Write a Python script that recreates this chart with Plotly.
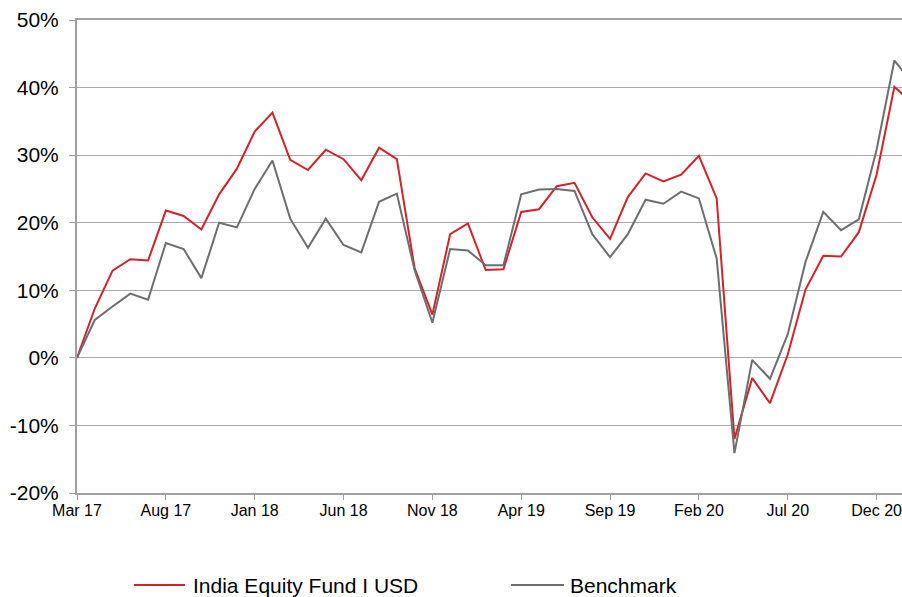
import plotly.graph_objects as go

# Monthly cumulative performance (%), Mar 17 .. Feb 21
months = [
    "Mar 17", "Apr 17", "May 17", "Jun 17", "Jul 17", "Aug 17", "Sep 17", "Oct 17",
    "Nov 17", "Dec 17", "Jan 18", "Feb 18", "Mar 18", "Apr 18", "May 18", "Jun 18",
    "Jul 18", "Aug 18", "Sep 18", "Oct 18", "Nov 18", "Dec 18", "Jan 19", "Feb 19",
    "Mar 19", "Apr 19", "May 19", "Jun 19", "Jul 19", "Aug 19", "Sep 19", "Oct 19",
    "Nov 19", "Dec 19", "Jan 20", "Feb 20", "Mar 20", "Apr 20", "May 20", "Jun 20",
    "Jul 20", "Aug 20", "Sep 20", "Oct 20", "Nov 20", "Dec 20", "Jan 21", "Feb 21",
]

fund = [
    0.0, 7.3, 12.9, 14.6, 14.4, 21.8, 21.0, 19.0,
    24.2, 28.0, 33.5, 36.3, 29.3, 27.8, 30.8, 29.4,
    26.3, 31.1, 29.4, 13.3, 6.4, 18.3, 19.9, 13.0,
    13.1, 21.6, 22.0, 25.4, 25.9, 20.8, 17.6, 23.8,
    27.3, 26.1, 27.1, 29.9, 23.6, -12.0, -3.0, -6.7,
    0.5, 10.1, 15.1, 15.0, 18.6, 27.1, 40.1, 37.8,
]

benchmark = [
    0.0, 5.6, 7.6, 9.5, 8.6, 17.0, 16.1, 11.8,
    20.0, 19.3, 25.0, 29.2, 20.6, 16.3, 20.6, 16.7,
    15.6, 23.1, 24.3, 13.0, 5.2, 16.1, 15.9, 13.7,
    13.7, 24.2, 24.9, 25.0, 24.7, 18.3, 14.9, 18.3,
    23.4, 22.8, 24.6, 23.6, 14.7, -14.1, -0.3, -3.1,
    3.5, 14.2, 21.6, 18.9, 20.5, 30.8, 44.0, 40.8,
]

y_ticks = [-20, -10, 0, 10, 20, 30, 40, 50]

fund_name = "India Equity Fund I USD"
bench_name = "Benchmark"

FUND_COLOR = "#D2232A"
BENCH_COLOR = "#6E6E6E"
GRID = "#ABABAB"
AXIS = "#A0A0A0"
FONT = "Liberation Sans, Arial, sans-serif"

x = list(range(len(months)))
tick_idx = x[::5]
tick_txt = [months[i] for i in tick_idx]
y_txt = [f"{v}%" for v in y_ticks]

fig = go.Figure()
fig.add_trace(go.Scatter(x=x, y=fund, name=fund_name, mode="lines",
                         line=dict(color=FUND_COLOR, width=2)))
fig.add_trace(go.Scatter(x=x, y=benchmark, name=bench_name, mode="lines",
                         line=dict(color=BENCH_COLOR, width=2)))

fig.update_layout(
    width=902, height=597,
    margin=dict(l=77, r=0, t=20, b=104),
    paper_bgcolor="white", plot_bgcolor="white",
    font=dict(family=FONT, color="black"),
    showlegend=False,
)

# Legend below the plot: a line sample followed by the series name
legend_items = [
    (fund_name, FUND_COLOR, 0.0691, 0.1309, 0.1382),
    (bench_name, BENCH_COLOR, 0.5261, 0.5903, 0.5952),
]
LEG_Y_LINE = -0.1945
LEG_Y_TEXT = -0.1966
for name, color, x0, x1, xt in legend_items:
    fig.add_shape(type="line", xref="paper", yref="paper",
                  x0=x0, x1=x1, y0=LEG_Y_LINE, y1=LEG_Y_LINE,
                  line=dict(color=color, width=2))
    fig.add_annotation(text=name, xref="paper", yref="paper",
                       x=xt, y=LEG_Y_TEXT, xanchor="left", yanchor="middle",
                       showarrow=False, font=dict(size=21, family=FONT))

fig.update_xaxes(
    range=[0, 46.43],
    tickmode="array", tickvals=tick_idx, ticktext=tick_txt,
    showgrid=False, zeroline=False,
    showline=True, linecolor=AXIS, linewidth=2, mirror=True,
    ticks="outside", ticklen=5, tickcolor=AXIS, tickwidth=1,
    tickfont=dict(size=16),
    ticklabelstandoff=-3,
    ticklabeloverflow="allow",
)

fig.update_yaxes(
    range=[-20, 50],
    tickmode="array", tickvals=y_ticks, ticktext=y_txt,
    showgrid=True, gridcolor=GRID, gridwidth=1,
    zeroline=False,
    showline=True, linecolor=AXIS, linewidth=2,
    ticks="outside", ticklen=6, tickcolor=AXIS, tickwidth=1,
    tickfont=dict(size=21),
    ticklabelstandoff=6,
)

fig.write_html("out.html")
